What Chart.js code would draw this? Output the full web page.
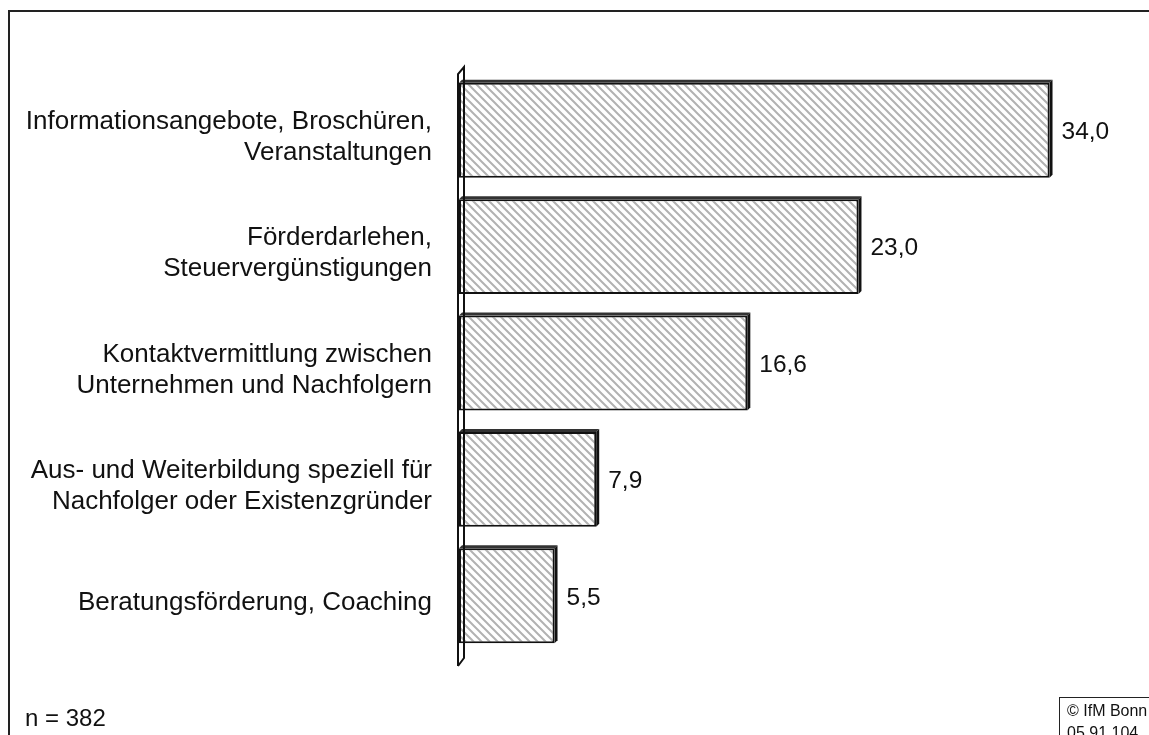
<!DOCTYPE html>
<html>
<head>
<meta charset="utf-8">
<script src="https://cdn.jsdelivr.net/npm/chart.js@4"></script>
<style>
  body { margin: 0; background: #fff; font-family: "Liberation Sans", Arial, sans-serif; }
  #wrap { position: relative; width: 1149px; height: 735px; overflow: hidden; }
  #frame { position: absolute; left: 8px; top: 10px; width: 1200px; height: 800px; border: 2px solid #222; }
  canvas { position: absolute; left: 0; top: 0; }
  #note { position: absolute; left: 25px; top: 704px; font-size: 24px; color: #111; }
  #copy { position: absolute; left: 1059px; top: 697px; width: 120px; height: 60px; border: 1px solid #222;
          font-size: 16px; line-height: 22px; padding: 2px 0 0 7px; color: #111; }
</style>
</head>
<body>
<div id="wrap">
  <div id="frame"></div>
  <canvas id="chart" width="1149" height="735"></canvas>
  <div id="note">n = 382</div>
  <div id="copy">© IfM Bonn<br>05 91 104</div>
</div>
<script>
// data
const categories = [
  ["Informationsangebote, Broschüren,", "Veranstaltungen"],
  ["Förderdarlehen,", "Steuervergünstigungen"],
  ["Kontaktvermittlung zwischen", "Unternehmen und Nachfolgern"],
  ["Aus- und Weiterbildung speziell für", "Nachfolger oder Existenzgründer"],
  ["Beratungsförderung, Coaching"]
];
const values = [34.0, 23.0, 16.6, 7.9, 5.5];

// hatch fill
function makeHatch() {
  const s = 8;
  const c = document.createElement("canvas");
  c.width = s; c.height = s;
  const g = c.getContext("2d");
  g.fillStyle = "#fff";
  g.fillRect(0, 0, s, s);
  g.strokeStyle = "#b2b2b2";
  g.lineWidth = 2;
  g.beginPath();
  g.moveTo(0, 0); g.lineTo(s, s);
  g.moveTo(-s, 0); g.lineTo(s, s * 2);
  g.moveTo(0, -s); g.lineTo(s * 2, s);
  g.stroke();
  return g.createPattern(c, "repeat");
}

const formatValue = v => v.toFixed(1).replace(".", ",");

// 3d edges + value labels
const barExtras = {
  id: "barExtras",
  afterDatasetsDraw(chart) {
    const ctx = chart.ctx;
    const meta = chart.getDatasetMeta(0);
    ctx.save();
    meta.data.forEach((bar, i) => {
      const x0 = bar.base, x1 = bar.x;
      const y0 = bar.y - bar.height / 2, y1 = bar.y + bar.height / 2;
      const d = 3;
      ctx.fillStyle = "#333";
      ctx.beginPath();
      ctx.moveTo(x0, y0); ctx.lineTo(x0 + d, y0 - d); ctx.lineTo(x1 + d, y0 - d); ctx.lineTo(x1, y0);
      ctx.closePath(); ctx.fill();
      ctx.fillStyle = "#111";
      ctx.beginPath();
      ctx.moveTo(x1, y0); ctx.lineTo(x1 + d, y0 - d); ctx.lineTo(x1 + d, y1 - d); ctx.lineTo(x1, y1);
      ctx.closePath(); ctx.fill();

      ctx.fillStyle = "#111";
      ctx.font = "24.5px 'Liberation Sans', Arial, sans-serif";
      ctx.textAlign = "left";
      ctx.textBaseline = "middle";
      ctx.fillText(formatValue(values[i]), x1 + 12, bar.y + 2);
    });

    // axis wall
    const ax = chart.scales.x.getPixelForValue(0);
    const top = chart.chartArea.top, bottom = chart.chartArea.bottom;
    ctx.strokeStyle = "#111";
    ctx.lineWidth = 2;
    ctx.beginPath();
    ctx.moveTo(ax - 1, bottom + 12);
    ctx.lineTo(ax - 1, top + 2);
    ctx.lineTo(ax + 5, top - 5);
    ctx.lineTo(ax + 5, bottom + 4);
    ctx.lineTo(ax - 1, bottom + 12);
    ctx.stroke();
    ctx.restore();
  }
};

new Chart(document.getElementById("chart"), {
  type: "bar",
  data: {
    labels: categories,
    datasets: [{
      data: values,
      backgroundColor: makeHatch(),
      borderColor: "#111",
      borderWidth: 2,
      borderSkipped: false,
      categoryPercentage: 1,
      barPercentage: 0.815
    }]
  },
  options: {
    indexAxis: "y",
    responsive: false,
    animation: false,
    layout: { padding: { top: 72, bottom: 81, right: 30, left: 0 } },
    plugins: { legend: { display: false }, tooltip: { enabled: false } },
    scales: {
      x: { display: false, min: 0, max: 38 },
      y: {
        afterFit(scale) { scale.width = 459; },
        grid: { display: false, drawTicks: false },
        border: { display: false },
        ticks: {
          padding: 27,
          labelOffset: 7,
          color: "#111",
          font: { family: "'Liberation Sans', Arial, sans-serif", size: 26, lineHeight: 1.19 }
        }
      }
    }
  },
  plugins: [barExtras]
});
</script>
</body>
</html>
